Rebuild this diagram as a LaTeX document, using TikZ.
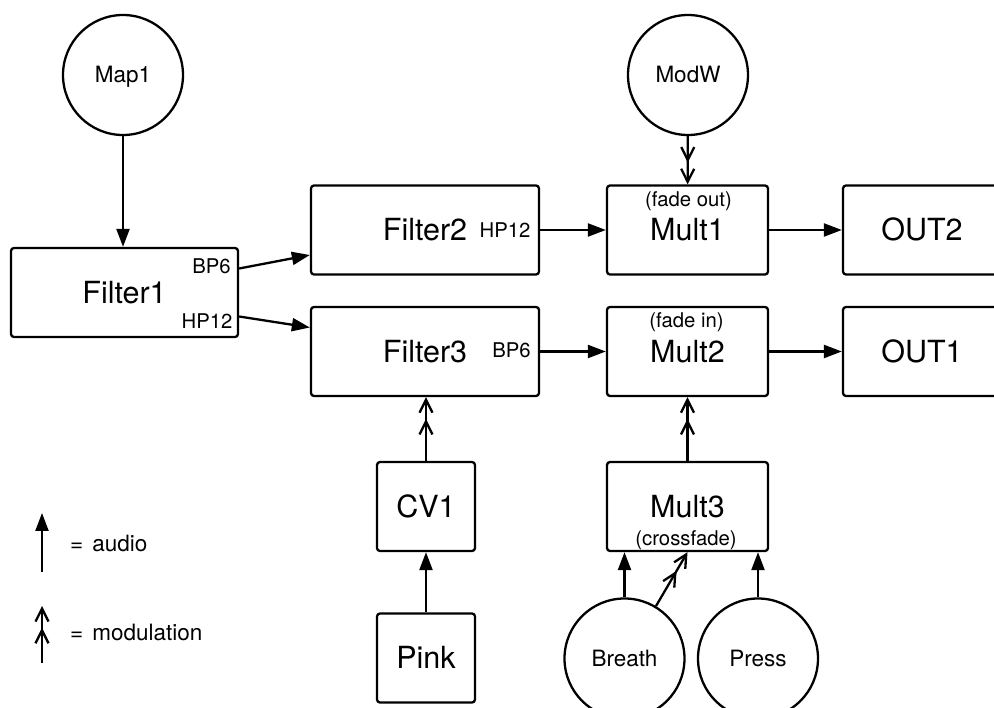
\documentclass[tikz,border=0pt]{standalone}
\usepackage{fontspec}
\setmainfont{TeX Gyre Heros}
\usetikzlibrary{arrows.meta,calc}

\begin{document}
\begin{tikzpicture}[x=1pt,y=-1pt,
  stage/.style={draw, line width=2.3pt, rounded corners=3pt, minimum height=89pt,
    inner sep=0pt, text height=21.8pt, text depth=0pt, font=\fontsize{30.5}{36}\selectfont},
  ctrl/.style={draw, circle, line width=2.3pt, minimum size=120pt,
    inner sep=0pt, text height=16pt, text depth=0pt, font=\fontsize{22.5}{27}\selectfont},
  tag/.style={inner sep=0pt, text height=14.6pt, text depth=0pt, font=\fontsize{20.3}{24}\selectfont},
  note/.style={inner sep=0pt, anchor=west, text height=16pt, text depth=0pt, font=\fontsize{22.5}{27}\selectfont},
  audio/.style={line width=2.3pt, -{Triangle[length=18pt,width=13pt]}},
  modln/.style={line width=2.3pt,
    -{Straight Barb[length=13pt,width=13pt,sep=5pt]Straight Barb[length=13pt,width=13pt]}},
]
\useasboundingbox (0,0) rectangle (994,708);

% control sources
\node[ctrl] (map)  at (123,75)  {Map1};
\node[ctrl] (modw) at (688,75)  {ModW};
\node[ctrl] (breath) at (624.5,658.5) {Breath};
\node[ctrl] (press)  at (758,658.5)   {Press};

% processing stages
\node[stage, minimum width=227pt] (f1) at (124.5,292.5) {Filter1};
\node[stage, minimum width=228pt] (f2) at (425,230)     {Filter2};
\node[stage, minimum width=228pt] (f3) at (425,351.5)   {Filter3};
\node[stage, minimum width=161pt] (m1) at (687.5,230)   {Mult1};
\node[stage, minimum width=161pt] (m2) at (687.5,351.5) {Mult2};
\node[stage, minimum width=158pt] (o2) at (922,230)     {OUT2};
\node[stage, minimum width=158pt] (o1) at (922,351.5)   {OUT1};
\node[stage, minimum width=98pt]  (cv) at (426,506.5)   {CV1};
\node[stage, minimum width=98pt]  (pink) at (426,658)   {Pink};
\node[stage, minimum width=161pt] (m3) at (687.5,506.5) {Mult3};

% port and mode tags
\node[tag] (f1bp) at (211.5,266.5) {BP6};
\node[tag] (f1hp) at (207,321)     {HP12};
\node[tag] (f2hp) at (505,230)     {HP12};
\node[tag] (f3bp) at (511.5,350)   {BP6};
\node[tag] (m1tag) at (688.5,199)  {(fade out)};
\node[tag] (m2tag) at (686.5,320)  {(fade in)};
\node[tag] (m3tag) at (686,538)    {(crossfade)};

% signal flow
\draw[audio] (map.south) -- (map.south |- f1.north);
\draw[audio] ([yshift=24pt]f1.east) -- ([yshift=-25pt]f2.west);
\draw[audio] ([yshift=-24pt]f1.east) -- ([yshift=24pt]f3.west);
\draw[audio] (f2) -- (m1);
\draw[audio] (f3) -- (m2);
\draw[audio] (m1) -- (o2);
\draw[audio] (m2) -- (o1);
\draw[modln] (modw) -- (m1);
\draw[modln] (cv.north) -- (cv.north |- f3.south);
\draw[audio] (pink) -- (cv);
\draw[modln] (m3) -- (m2);
\draw[audio] (breath.north) -- (breath.north |- m3.south);
\draw[audio] (press.north) -- (press.north |- m3.south);
\draw[modln] (breath.59) -- (m3.south);

% legend
\coordinate (aulo) at (42,572);
\coordinate (auhi) at (42,513);
\coordinate (molo) at (42,663);
\coordinate (mohi) at (42,606);
\draw[audio] (aulo) -- (auhi);
\draw[modln] (molo) -- (mohi);
\node[note] (audiotxt) at (70,543) {=\hspace{9pt}audio};
\node[note] (modtxt)   at (70,632) {=\hspace{9pt}modulation};
\end{tikzpicture}
\end{document}
